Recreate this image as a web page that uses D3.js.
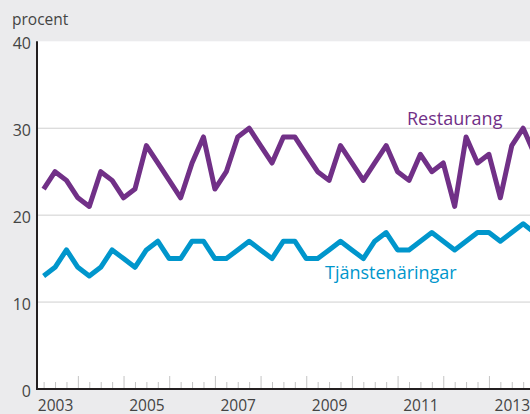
<!DOCTYPE html>
<html>
<head>
<meta charset="utf-8">
<script src="https://cdn.jsdelivr.net/npm/d3@7"></script>
<style>
  body { margin: 0; background: #ebebed; }
  svg { display: block; }
  text { font-family: "Open Sans", sans-serif; }
</style>
</head>
<body>
<div id="chart"></div>
<script>
// quarterly values, first point at 2003 Q1 (placed on the first quarter tick)
var restaurang = [23, 25, 24, 22, 21, 25, 24, 22, 23, 28, 26, 24, 22, 26, 29, 23, 25, 29, 30, 28,
                  26, 29, 29, 27, 25, 24, 28, 26, 24, 26, 28, 25, 24, 27, 25, 26, 21, 29, 26, 27,
                  22, 28, 30, 27];
var tjanst = [13, 14, 16, 14, 13, 14, 16, 15, 14, 16, 17, 15, 15, 17, 17, 15, 15, 16, 17, 16,
              15, 17, 17, 15, 15, 16, 17, 16, 15, 17, 18, 16, 16, 17, 18, 17, 16, 17, 18, 18,
              17, 18, 19, 18];
var yearLabels = [2003, 2005, 2007, 2009, 2011, 2013];
var yTicks = [0, 10, 20, 30, 40];

var W = 530, H = 414;
var plot = {left: 37, right: 530, top: 41.3, bottom: 389};

var svg = d3.select("#chart").append("svg")
    .attr("width", W)
    .attr("height", H);

var x = d3.scaleLinear()
    .domain([2003, 2014])
    .range([32.2, 534.6]);

var y = d3.scaleLinear()
    .domain([0, 40])
    .range([plot.bottom, plot.top]);

function t(i) { return 2003.25 + 0.25 * i; }

// white plot area
svg.append("rect")
    .attr("x", plot.left)
    .attr("y", plot.top)
    .attr("width", plot.right - plot.left)
    .attr("height", plot.bottom - plot.top)
    .attr("fill", "#fff");

// gridlines
svg.append("g")
  .selectAll("line")
  .data([10, 20, 30])
  .enter().append("line")
    .attr("x1", plot.left)
    .attr("x2", plot.right)
    .attr("y1", function(d) { return y(d); })
    .attr("y2", function(d) { return y(d); })
    .attr("stroke", "#cfcfcf")
    .attr("stroke-width", 1);

// quarter ticks (minor) and year ticks (major)
var quarters = d3.range(0, 44).map(t).filter(function(d) { return d % 1 !== 0; });
var years = d3.range(2004, 2014);

var minorAx = svg.append("g")
    .attr("transform", "translate(0," + plot.bottom + ")")
    .call(d3.axisBottom(x).tickValues(quarters).tickSize(-7).tickFormat(""));
var majorAx = svg.append("g")
    .attr("transform", "translate(0," + plot.bottom + ")")
    .call(d3.axisBottom(x).tickValues(years).tickSize(-13).tickFormat(""));
[minorAx, majorAx].forEach(function(g) {
  g.select(".domain").remove();
  g.selectAll(".tick line").attr("stroke", "#c4c4c4");
});

// year labels centred inside each year
var labAx = svg.append("g")
    .attr("transform", "translate(0," + plot.bottom + ")")
    .call(d3.axisBottom(x).tickValues(yearLabels.map(function(d) { return d + 0.5; }))
      .tickSize(0).tickFormat(function(d) { return Math.floor(d); }));
labAx.select(".domain").remove();
labAx.selectAll("text")
    .attr("y", 11)
    .attr("dy", "0.71em")
    .style("font-family", "'Open Sans', sans-serif")
    .style("font-size", "15.5px")
    .attr("fill", "#444");

// y axis labels
var yAx = svg.append("g")
    .attr("transform", "translate(" + plot.left + ",0)")
    .call(d3.axisLeft(y).tickValues(yTicks).tickSize(0));
yAx.select(".domain").remove();
yAx.selectAll("text")
    .attr("x", -6)
    .attr("dy", "0.45em")
    .style("font-family", "'Open Sans', sans-serif")
    .style("font-size", "16px")
    .attr("fill", "#444");

// axis lines
svg.append("line")
    .attr("x1", plot.left).attr("x2", plot.left)
    .attr("y1", plot.top).attr("y2", plot.bottom + 1)
    .attr("stroke", "#231f20").attr("stroke-width", 2);
svg.append("line")
    .attr("x1", plot.left - 1).attr("x2", plot.right)
    .attr("y1", plot.bottom).attr("y2", plot.bottom)
    .attr("stroke", "#231f20").attr("stroke-width", 2);

// series lines
var line = d3.line()
    .x(function(d, i) { return x(t(i)); })
    .y(function(d) { return y(d); });

svg.append("path")
    .datum(tjanst)
    .attr("d", line)
    .attr("fill", "none")
    .attr("stroke", "#0096cc")
    .attr("stroke-width", 5)
    .attr("stroke-linejoin", "round");

svg.append("path")
    .datum(restaurang)
    .attr("d", line)
    .attr("fill", "none")
    .attr("stroke", "#713087")
    .attr("stroke-width", 5)
    .attr("stroke-linejoin", "round");

// labels
svg.append("text")
    .attr("x", 12)
    .attr("y", 25)
    .style("font-size", "15.5px")
    .attr("fill", "#444")
    .text("procent");

svg.append("text")
    .attr("x", 407)
    .attr("y", 124.5)
    .style("font-size", "18px")
    .attr("fill", "#713087")
    .text("Restaurang");

svg.append("text")
    .attr("x", 325)
    .attr("y", 278.5)
    .style("font-size", "18px")
    .attr("fill", "#0096cc")
    .text("Tjänstenäringar");
</script>
</body>
</html>
